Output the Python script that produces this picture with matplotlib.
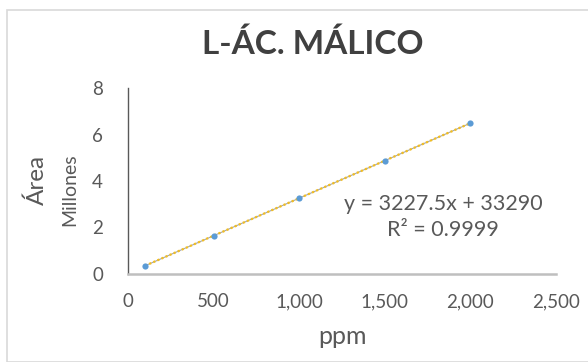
import matplotlib
matplotlib.use("Agg")
import matplotlib.pyplot as plt
import numpy as np
from matplotlib.patches import Rectangle
from matplotlib.ticker import FuncFormatter, MultipleLocator

ppm = [100, 500, 1000, 1500, 2000]
area_millions = [0.355, 1.647, 3.261, 4.875, 6.488]
title = "L-ÁC. MÁLICO"
x_label = "ppm"
y_label = "Área"
y_units = "Millones"
eq_text = "y = 3227.5x + 33290"
r2_text = "R² = 0.9999"

plt.rcParams['font.family'] = ['Lato', 'DejaVu Sans']
text_c = '#595959'

fig = plt.figure(figsize=(5.88, 3.62), dpi=100)
W, H = 588, 362
fig.patches.append(Rectangle((7 / W, 0), 1, 1 - 10 / H, transform=fig.transFigure,
                             fill=False, edgecolor='#D9D9D9', linewidth=1.2))

ax = fig.add_axes([128 / W, 1 - 274 / H, (556 - 128) / W, (274 - 88) / H])
ax.set_xlim(0, 2500)
ax.set_ylim(0, 8)
ax.xaxis.set_major_locator(MultipleLocator(500))
ax.yaxis.set_major_locator(MultipleLocator(2))
ax.xaxis.set_major_formatter(FuncFormatter(lambda v, p: f"{int(v):,}"))
ax.tick_params(axis='both', length=0, labelsize=13.5, colors=text_c)
ax.tick_params(axis='x', pad=14)
ax.tick_params(axis='y', pad=18)
for s in ['top', 'right']:
    ax.spines[s].set_visible(False)
ax.spines['left'].set_color('#595959')
ax.spines['left'].set_linewidth(1.0)
ax.spines['bottom'].set_color('#BFBFBF')
ax.spines['bottom'].set_linewidth(1.8)

# trendline
coef = np.polyfit(ppm, area_millions, 1)
xt = np.array([min(ppm), max(ppm)])
ax.plot(xt, np.polyval(coef, xt), color='#A6A6A6', linewidth=0.8, zorder=2)
ax.plot(xt, np.polyval(coef, xt), color='#F2BE22', linewidth=1.6,
        linestyle=(0, (1.0, 1.0)), zorder=3)
ax.scatter(ppm, area_millions, s=20, color='#5B9BD5', zorder=4, linewidths=0)

fig.text(313 / W, 1 - 44 / H, title, ha='center', va='center', fontsize=24,
         fontweight='bold', color='#404040')
fig.text(342 / W, 1 - 336 / H, x_label, ha='center', va='center', fontsize=18, color=text_c)
fig.text(37 / W, 1 - 180 / H, y_label, ha='center', va='center', fontsize=17.5,
         rotation=90, color=text_c)
fig.text(70 / W, 1 - 190 / H, y_units, ha='center', va='center', fontsize=14,
         rotation=90, color=text_c)
fig.text(443 / W, 1 - 204 / H, eq_text, ha='center', va='center', fontsize=15.5, color=text_c)
fig.text(443 / W, 1 - 230 / H, r2_text, ha='center', va='center', fontsize=15.5, color=text_c)

fig.savefig('out.png', dpi=100)
